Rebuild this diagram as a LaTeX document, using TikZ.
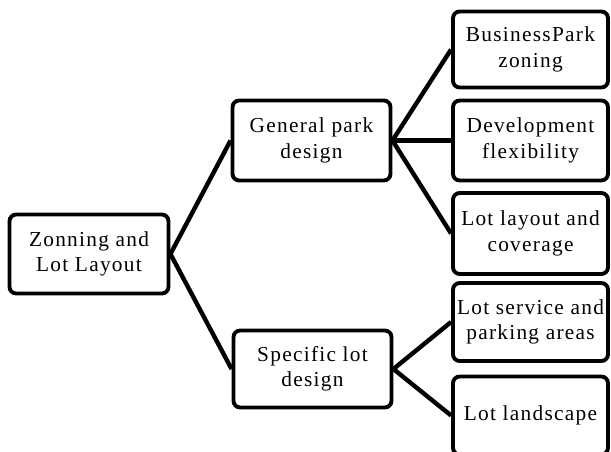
\documentclass[tikz,border=0pt]{standalone}
\usepackage{fontspec}
\setmainfont{Liberation Serif}[LetterSpace=6]
\begin{document}
\begin{tikzpicture}[x=0.75pt,y=-0.75pt,
  box/.style={draw, line width=2.9pt, rounded corners=5pt, align=center, inner sep=0pt,
    font=\fontsize{16}{19}\selectfont, fill=white},
  link/.style={line width=3.3pt}]
\useasboundingbox (0,0) rectangle (611,452);
\clip (0,0) rectangle (611,452);
\node[box, minimum width=119.25pt, minimum height=59.25pt] (root) at (89,254) {Zonning and\\Lot Layout};
\node[box, minimum width=118.5pt, minimum height=60pt] (gen) at (311.5,140.5) {General park\\design};
\node[box, minimum width=118.5pt, minimum height=57.75pt] (spec) at (312.5,369) {Specific lot\\design};
\node[box, minimum width=116.25pt, minimum height=57pt] (b1) at (530.5,49.5) {BusinessPark\\zoning};
\node[box, minimum width=116.25pt, minimum height=60pt] (b2) at (530.5,140.5) {Development\\flexibility};
\node[box, minimum width=116.25pt, minimum height=60.75pt] (b3) at (530.5,233.5) {Lot layout and\\coverage};
\node[box, minimum width=116.25pt, minimum height=58.5pt] (b4) at (530.5,322) {Lot service and\\parking areas};
\node[box, minimum width=116.25pt, minimum height=58.5pt] (b5) at (530.5,415.5) {Lot landscape};
\draw[link] (root.east) -- (gen.west);
\draw[link] (root.east) -- (spec.west);
\draw[link] (gen.east) -- (b1.west);
\draw[link] (gen.east) -- (b2.west);
\draw[link] (gen.east) -- (b3.west);
\draw[link] (spec.east) -- (b4.west);
\draw[link] (spec.east) -- (b5.west);
\end{tikzpicture}
\end{document}
